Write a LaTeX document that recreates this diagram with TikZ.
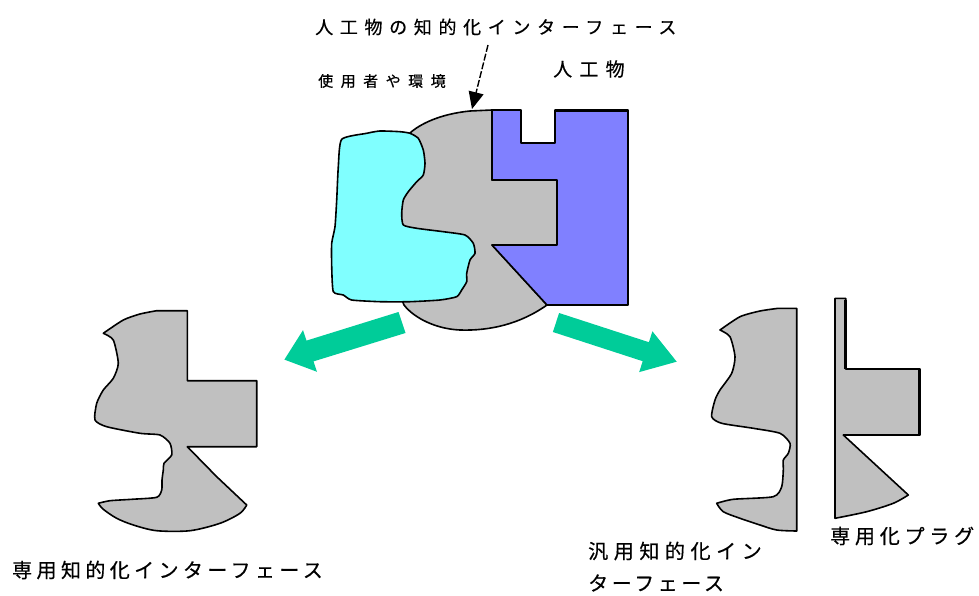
\documentclass[tikz,border=0pt]{standalone}
\usepackage{fontspec}
\newfontfamily\jp[FakeBold=0.5]{Noto Sans CJK JP}
\usetikzlibrary{arrows.meta}
\definecolor{shapegray}{HTML}{C0C0C0}
\definecolor{usercyan}{HTML}{80FFFF}
\definecolor{artpurple}{HTML}{8080FF}
\definecolor{arrowgreen}{HTML}{00CC99}
\tikzset{
  outl/.style={draw=black, line width=1.6pt, line join=round},
  grayshape/.style={outl, fill=shapegray},
  cyanshape/.style={outl, fill=usercyan},
  purpshape/.style={outl, fill=artpurple},
  bigarrow/.style={fill=arrowgreen, draw=none},
  lbl/.style={anchor=west, inner sep=0pt, text=black},
  thickedge/.style={draw=black, line width=2.8pt},
}
\begin{document}
\begin{tikzpicture}[x=1pt,y=-1pt]
\useasboundingbox (0,0) rectangle (979,596);

% ---------- central gray interface ----------
\path[grayshape] (410,133) .. controls (420,124) and (440,114) .. (470,111) -- (492,110)
  -- (492,180) -- (557,180) -- (557,245) -- (492,245) -- (547,305)
  .. controls (520,324) and (490,331) .. (460,330)
  .. controls (436,329) and (414,318) .. (404,305) -- (398,290) -- (396,200) -- cycle;

% ---------- user / environment (cyan) ----------
\path[cyanshape] plot[smooth cycle, tension=0.35] coordinates {
 (341.7,139.3) (366.7,133.3) (380,131) (400,131.7) (410,133.3) (418.3,138.3)
 (423.3,150) (425,163.3) (423.3,175) (416.7,181.7) (408.3,191.7) (403.3,200)
 (401.7,213.3) (403.3,225) (416.7,228.3) (443.3,231.7) (465,235) (473.3,243.3)
 (475,253.3) (470,260) (466.7,273.3) (466.7,281.7) (461.7,290) (456.7,296.7)
 (440,300) (410,301.7) (380,301.7) (351.7,300) (343.3,295) (333.3,291.7)
 (331.7,266.7) (331.7,243.3) (335,226.7) (336.7,200) (338.3,166.7)};

% ---------- artifact (purple) ----------
\path[purpshape] (492,110) -- (521,110) -- (521,143) -- (555,143) -- (555,110)
  -- (628,110) -- (628,305) -- (547,305) -- (492,245) -- (557,245) -- (557,180)
  -- (492,180) -- cycle;
\draw[thickedge] (555,110.5) -- (628,110.5);

% ---------- dashed pointer ----------
\coordinate (ptrstart) at (488,45);
\coordinate (ptrend) at (472,109);
\draw[line width=1.4pt, dash pattern=on 7pt off 2pt,
  -{Triangle[length=17pt,width=15pt]}] (ptrstart) -- (ptrend);

% ---------- green arrows ----------
\path[bigarrow] (398.5,312) -- (306.5,340.6) -- (303,330.2) -- (284.4,359.6)
  -- (317,371.8) -- (313.5,361.4) -- (405.5,333) -- cycle;
\path[bigarrow] (559.1,313) -- (648.9,342.2) -- (652.4,331.3) -- (676.7,361.7)
  -- (639.2,372.1) -- (642.7,361.2) -- (552.9,332) -- cycle;

% ---------- specialised interface (lower left) ----------
\path[grayshape] (156.7,310.7) -- (187.3,310.7) -- (187.3,380.7) -- (256.7,380.7)
  -- (256.7,446.7) -- (187.3,446.7) -- (216.7,476.7) -- (246.7,505)
  -- plot[smooth, tension=0.5] coordinates {(246.7,505) (240,513.3) (220,523.3)
     (190,530.7) (156.7,530.7) (133.3,525) (116.7,518.3) (103.3,509.3) (98.3,503.3)}
  -- plot[smooth, tension=0.4] coordinates {(98.3,503.3) (110,500.7) (131.7,499.3)
     (156.7,497.3) (161.7,490) (162,480) (163.3,470) (164,463.3) (171.7,455)
     (170,443.3) (160,435) (140,433.3) (106.7,426.7) (95,420) (96.7,403.3)
     (103.3,390) (113.3,378.3) (118.3,363.3) (113.3,340) (103.3,333.3)}
  -- plot[smooth, tension=0.4] coordinates {(103.3,333.3) (123.3,320) (140,314) (156.7,310.7)}
  -- cycle;

% ---------- general interface (right) ----------
\path[grayshape] (778.3,308.3) -- (796.7,308.3) -- (796.7,531)
  -- plot[smooth, tension=0.5] coordinates {(796.7,531) (776.7,530) (760,525)
     (740,518.3) (723.3,511.7) (716.7,503.3)}
  -- plot[smooth, tension=0.4] coordinates {(716.7,503.3) (733.3,499.3)
     (773.3,496.7) (781.7,486.7) (783.3,470) (783.3,460) (788.3,453.3) (790,443.3)
     (780,433.3) (753.3,428.3) (721.7,423.3) (711.7,416.7) (715,400) (720,390)
     (731.7,373.3) (735,356.7) (730,336.7) (720,330)}
  -- plot[smooth, tension=0.4] coordinates {(720,330) (740,316.7) (760,311) (778.3,308.3)}
  -- cycle;

% ---------- specialised plug (right) ----------
\path[grayshape] (835,298.3) -- (845.7,298.3) -- (845.7,369) -- (920,369) -- (920,435)
  -- (843.3,435) -- (908.3,495)
  -- plot[smooth, tension=0.5] coordinates {(908.3,495) (893.3,503.3) (866.7,511.7) (835,518.3)}
  -- cycle;
\draw[thickedge] (845.2,300) -- (845.2,369);
\draw[thickedge] (919.5,369) -- (919.5,435);

% ---------- labels ----------
\node[lbl, font=\jp\fontsize{18}{18}\selectfont\addfontfeature{LetterSpace=37}] (title) at (315,27) {人工物の知的化インターフェース};
\node[lbl, font=\jp\fontsize{15}{15}\selectfont\addfontfeature{LetterSpace=50}] (user) at (318,81) {使用者や環境};
\node[lbl, font=\jp\fontsize{19}{19}\selectfont\addfontfeature{LetterSpace=38}] (art) at (553,69) {人工物};
\node[lbl, font=\jp\fontsize{20}{20}\selectfont\addfontfeature{LetterSpace=22}] (spec) at (12,570) {専用知的化インターフェース};
\node[lbl, font=\jp\fontsize{20}{20}\selectfont\addfontfeature{LetterSpace=28}] (gen1) at (588,551) {汎用知的化イン};
\node[lbl, font=\jp\fontsize{20}{20}\selectfont\addfontfeature{LetterSpace=18}] (gen2) at (588,583) {ターフェース};
\node[lbl, font=\jp\fontsize{20}{20}\selectfont\addfontfeature{LetterSpace=24}] (plug) at (830,536) {専用化プラグ};
\end{tikzpicture}
\end{document}
